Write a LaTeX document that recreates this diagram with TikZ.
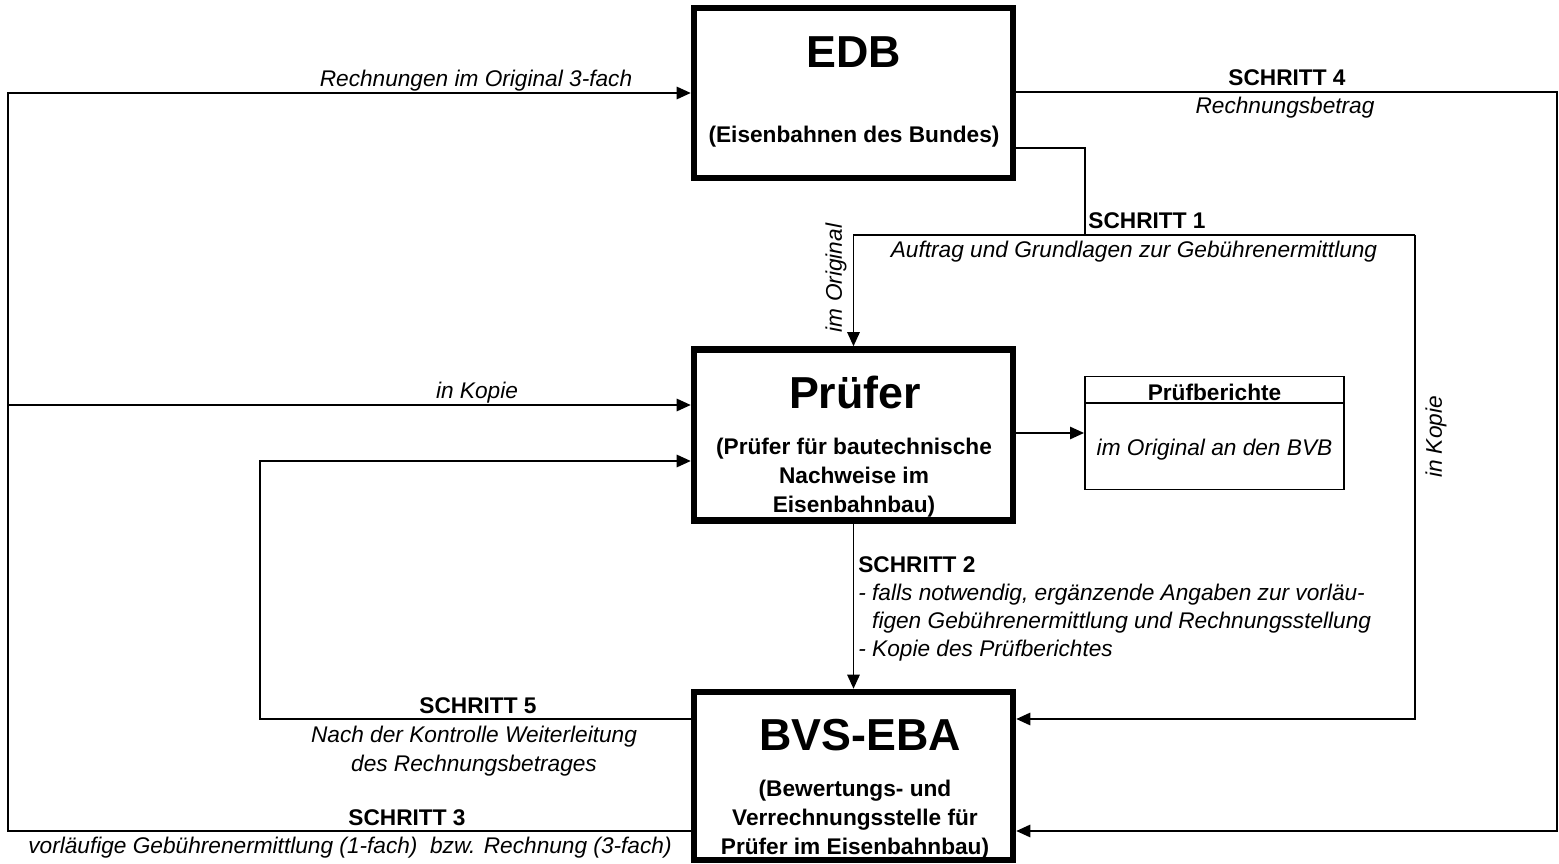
\documentclass[tikz,border=0pt]{standalone}
\usepackage{fontspec}
\setmainfont{Liberation Sans}
\usetikzlibrary{arrows.meta}
\tikzset{
  bigbox/.style={draw, line width=3.7pt, minimum width=6.38cm, inner sep=0pt},
  smallbox/.style={draw, line width=1.1pt, minimum width=5.18cm, minimum height=2.26cm, inner sep=0pt},
  ln/.style={line width=1.1pt},
  arr/.style={ln, -{Triangle[length=8pt,width=7pt]}},
  lbl/.style={font=\fontsize{12.9}{16.5}\selectfont\itshape, inner sep=0pt},
  blbl/.style={font=\fontsize{12.9}{16.5}\selectfont\bfseries, inner sep=0pt},
  ttl/.style={font=\fontsize{25.5}{30}\selectfont\bfseries, inner sep=0pt},
}
\begin{document}
\begin{tikzpicture}[x=0.02cm, y=-0.02cm]
\useasboundingbox (0,0) rectangle (1559,864);
% boxes
\node[bigbox, minimum height=3.4cm] (edb) at (853.5,93) {};
\node[bigbox, minimum height=3.42cm] (prue) at (853.5,435) {};
\node[bigbox, minimum height=3.36cm] (bvs) at (853.5,776) {};
\node[smallbox] (pb) at (1214.5,433) {};
\draw[ln] ([yshift=-0.54cm]pb.north west) -- ([yshift=-0.54cm]pb.north east);
% box texts
\node[ttl] (edbt) at (854,52) {EDB};
\node[blbl] (edbs) at (854,137) {(Eisenbahnen des Bundes)};
\node[ttl] (pruet) at (855,392) {Prüfer};
\node[blbl, align=center] (prues) at (854,477.5) {(Prüfer für bautechnische\\Nachweise im\\Eisenbahnbau)};
\node[ttl] (bvst) at (860,735) {BVS-EBA};
\node[blbl, align=center] (bvss) at (855,819.5) {(Bewertungs- und\\Verrechnungsstelle für\\Prüfer im Eisenbahnbau)};
\node[blbl] (pbt) at (1214.5,392) {Prüfberichte};
\node[lbl] (pbs) at (1214.5,450) {im Original an den BVB};
% coordinates
\coordinate (c1) at (8,93);
\coordinate (c2) at (8,405);
\coordinate (c3) at (8,831);
\coordinate (c5a) at (260,461);
\coordinate (c5b) at (260,719);
\coordinate (c4a) at (1557,92);
\coordinate (c4b) at (1557,831);
\coordinate (s1a) at (1085,148);
\coordinate (s1b) at (1085,235);
\coordinate (s1c) at (853.5,235);
\coordinate (s1d) at (1415,235);
\coordinate (s1e) at (1415,719);
% connectors
\draw[arr] (bvs.west |- c3) -- (c3) -- (c1) -- (edb.west);
\draw[arr] (c2) -- (prue.west |- c2);
\draw[arr] (bvs.west |- c5b) -- (c5b) -- (c5a) -- (prue.west |- c5a);
\draw[arr] (edb.east |- c4a) -- (c4a) -- (c4b) -- (bvs.east |- c4b);
\draw[ln] (edb.east |- s1a) -- (s1a) -- (s1b);
\draw[arr] (s1d) -- (s1c) -- (prue.north);
\draw[arr] (s1d) -- (s1e) -- (bvs.east |- s1e);
\draw[arr] (prue.east |- pb.west) -- (pb.west);
\draw[arr] (prue.south) -- (bvs.north);
% labels
\node[lbl] (l1) at (476,81) {Rechnungen im Original 3-fach};
\node[lbl] (l2) at (477,393) {in Kopie};
\node[blbl] (s5) at (478,706) {SCHRITT 5};
\node[lbl, align=center] (s5t) at (474,751) {Nach der Kontrolle Weiterleitung\\des Rechnungsbetrages};
\node[blbl] (s3) at (407,818) {SCHRITT 3};
\node[lbl] (s3t) at (350,847.5) {vorläufige Gebührenermittlung (1-fach)\ \ bzw. Rechnung (3-fach)};
\node[blbl] (s4) at (1287,78) {SCHRITT 4};
\node[lbl] (s4t) at (1285,108) {Rechnungsbetrag};
\node[blbl] (s1) at (1147,221) {SCHRITT 1};
\node[lbl] (s1t) at (1134,252) {Auftrag und Grundlagen zur Gebührenermittlung};
\node[lbl, rotate=90] (io) at (836,278) {im Original};
\node[lbl, rotate=90] (ik) at (1436,437) {in Kopie};
\node[lbl, align=left, anchor=west, font=\fontsize{12.9}{15.8}\selectfont\itshape] (s2) at (858,609) {\textbf{\upshape SCHRITT 2}\\- falls notwendig, ergänzende Angaben zur vorläu-\\\phantom{- }figen Gebührenermittlung und Rechnungsstellung\\- Kopie des Prüfberichtes};
\end{tikzpicture}
\end{document}
